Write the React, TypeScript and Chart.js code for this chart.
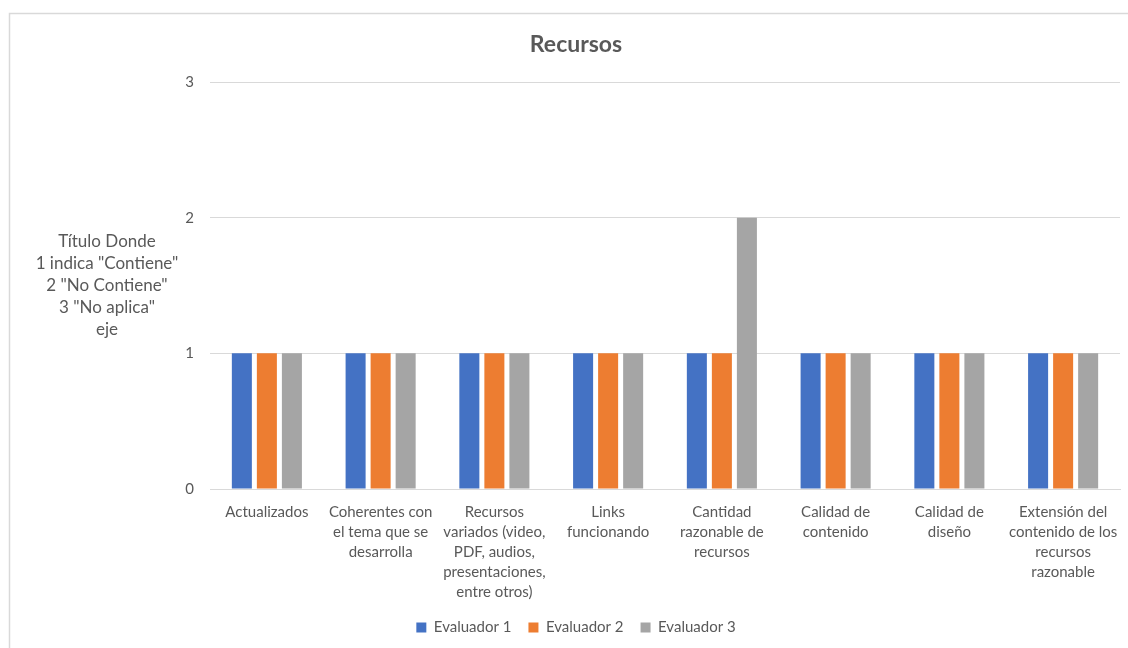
import React, { useEffect, useRef } from "react";
import { Chart, registerables } from "chart.js";

Chart.register(...registerables);

const categories: (string | string[])[] = [
  "Actualizados",
  ["Coherentes con", "el tema que se", "desarrolla"],
  ["Recursos", "variados (video,", "PDF, audios,", "presentaciones,", "entre otros)"],
  ["Links", "funcionando"],
  ["Cantidad", "razonable de", "recursos"],
  ["Calidad de", "contenido"],
  ["Calidad de", "diseño"],
  ["Extensión del", "contenido de los", "recursos", "razonable"],
];

const evaluador1 = [1, 1, 1, 1, 1, 1, 1, 1];
const evaluador2 = [1, 1, 1, 1, 1, 1, 1, 1];
const evaluador3 = [1, 1, 1, 1, 2, 1, 1, 1];

const seriesNames = ["Evaluador 1", "Evaluador 2", "Evaluador 3"];
const yTitleLines = ["Título Donde", '1 indica "Contiene"', '2 "No Contiene"', '3 "No aplica"', "eje"];
const chartTitle = "Recursos";

const FONT = "Lato, 'Open Sans', sans-serif";
const TEXT = "#595959";

export default function App() {
  const ref = useRef<HTMLCanvasElement | null>(null);

  useEffect(() => {
    if (!ref.current) return;
    const bgPlugin = {
      id: "bgBorder",
      beforeDraw(chart: any) {
        const ctx = chart.ctx;
        ctx.save();
        ctx.fillStyle = "#ffffff";
        ctx.fillRect(0, 0, chart.width, chart.height);
        ctx.strokeStyle = "#d9d9d9";
        ctx.lineWidth = 1.5;
        ctx.strokeRect(9.5, 13.5, 1300, 800);
        ctx.restore();
      },
    };
    const yTitlePlugin = {
      id: "yTitleLines",
      afterDraw(chart: any) {
        const ctx = chart.ctx;
        const area = chart.chartArea;
        ctx.save();
        ctx.fillStyle = TEXT;
        ctx.font = `17px ${FONT}`;
        ctx.textAlign = "center";
        ctx.textBaseline = "middle";
        const lh = 22;
        const cy = (area.top + area.bottom) / 2;
        const startY = cy - ((yTitleLines.length - 1) * lh) / 2;
        yTitleLines.forEach((l, i) => ctx.fillText(l, 107, startY + i * lh));
        ctx.restore();
      },
    };

    const chart = new Chart(ref.current, {
      type: "bar",
      data: {
        labels: categories,
        datasets: [
          { label: seriesNames[0], data: evaluador1, backgroundColor: "#4472C4" },
          { label: seriesNames[1], data: evaluador2, backgroundColor: "#ED7D31" },
          { label: seriesNames[2], data: evaluador3, backgroundColor: "#A5A5A5" },
        ],
      },
      options: {
        responsive: false,
        animation: false,
        devicePixelRatio: 1,
        layout: { padding: { left: 32, right: 8, top: 0, bottom: 3 } },
        datasets: { bar: { categoryPercentage: 0.66, barPercentage: 0.8 } },
        plugins: {
          title: {
            display: true,
            text: chartTitle,
            color: TEXT,
            font: { family: FONT, size: 23, weight: "bold", lineHeight: 1.2 },
            padding: { top: 30.5, bottom: 23.9 },
          },
          legend: {
            position: "bottom",
            labels: {
              color: TEXT,
              font: { family: FONT, size: 15 },
              boxWidth: 10,
              boxHeight: 10,
              padding: 17,
            },
          },
          tooltip: { enabled: false },
        },
        scales: {
          x: {
            grid: { display: false, drawTicks: false },
            border: { display: true, color: "#d9d9d9" },
            ticks: {
              color: TEXT,
              font: { family: FONT, size: 15, lineHeight: 20 / 15 },
              padding: 13,
              maxRotation: 0,
              autoSkip: false,
            },
            afterFit(scale: any) {
              scale.height = 114;
              scale.paddingLeft = 0;
              scale.paddingRight = 0;
            },
          },
          y: {
            min: 0,
            max: 3,
            grid: { color: "#d9d9d9", drawTicks: false },
            border: { display: false },
            ticks: {
              stepSize: 1,
              color: TEXT,
              font: { family: FONT, size: 15 },
              padding: 16,
            },
            afterFit(scale: any) {
              scale.width = 178;
            },
          },
        },
      },
      plugins: [bgPlugin, yTitlePlugin],
    } as any);
    return () => chart.destroy();
  }, []);

  return (
    <div style={{ position: "fixed", left: 0, top: 0, width: 1128, height: 648, overflow: "hidden" }}>
      <canvas ref={ref} width={1128} height={648} style={{ display: "block" }} />
    </div>
  );
}
